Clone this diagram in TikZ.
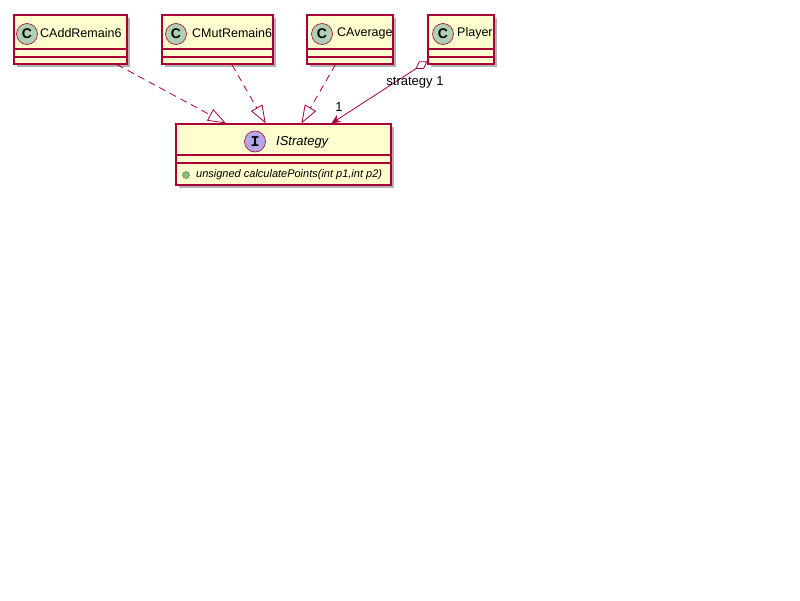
\documentclass[tikz,border=0pt]{standalone}
\usepackage{fontspec}
\setmainfont{Liberation Sans}
\setmonofont{Liberation Mono}
\usetikzlibrary{arrows.meta,shadows}
\definecolor{umlred}{HTML}{A80036}
\definecolor{umlfill}{HTML}{FEFECE}
\definecolor{umlclass}{HTML}{ADD1B2}
\definecolor{umliface}{HTML}{B4A7E5}
\definecolor{umldot}{HTML}{84BE84}
\tikzset{
 cls/.style={draw=umlred,fill=umlfill,line width=1.3pt,rectangle,inner sep=0pt,
  drop shadow={shadow xshift=3pt,shadow yshift=-3pt,opacity=0.3,fill=black}},
 spot/.style={circle,draw=umlred,line width=0.6pt,minimum size=21pt,inner sep=0pt},
 cname/.style={anchor=west,inner sep=0pt,font=\fontsize{12.5}{14}\selectfont},
 realize/.style={draw=umlred,line width=0.8pt,dash pattern=on 7pt off 5pt,
  -{Triangle[open,length=18pt,width=13pt,fill=white]}},
 aggr/.style={draw=umlred,line width=0.8pt,
  {Diamond[open,length=14pt,width=9pt,fill=white]}-{Stealth[length=9pt,width=8pt]}},
 lbl/.style={inner sep=0pt,font=\fontsize{13}{15}\selectfont}
}
\begin{document}
\begin{tikzpicture}[x=1pt,y=-1pt]
 \useasboundingbox[fill=white] (0,0) rectangle (800,600);
 \node[cls,minimum width=113pt,minimum height=49pt] (add) at (70.5,39.5) {};
 \node[cls,minimum width=111pt,minimum height=49pt] (mut) at (217.5,39.5) {};
 \node[cls,minimum width=86pt,minimum height=49pt] (avg) at (350,39.5) {};
 \node[cls,minimum width=66pt,minimum height=49pt] (player) at (461,39.5) {};
 \node[cls,minimum width=215pt,minimum height=61pt] (strat) at (283.5,154.5) {};
 \draw[umlred,line width=1.3pt](14,49)--(127,49) (14,57)--(127,57);
 \draw[umlred,line width=1.3pt](162,49)--(273,49) (162,57)--(273,57);
 \draw[umlred,line width=1.3pt](307,49)--(393,49) (307,57)--(393,57);
 \draw[umlred,line width=1.3pt](428,49)--(494,49) (428,57)--(494,57);
 \draw[umlred,line width=1.3pt](176,155)--(391,155) (176,163)--(391,163);
 \node[spot,fill=umlclass] (addspot) at (27,34) {\fontsize{14}{14}\selectfont\bfseries C};
 \node[spot,fill=umlclass] (mutspot) at (176,34) {\fontsize{14}{14}\selectfont\bfseries C};
 \node[spot,fill=umlclass] (avgspot) at (322,34) {\fontsize{14}{14}\selectfont\bfseries C};
 \node[spot,fill=umlclass] (playerspot) at (443,34) {\fontsize{14}{14}\selectfont\bfseries C};
 \node[spot,fill=umliface] (stratspot) at (255,141.5) {\fontsize{15}{15}\selectfont\ttfamily\bfseries I};
 \node[cname] (addname) at (40,33) {CAddRemain6};
 \node[cname] (mutname) at (192,33) {CMutRemain6};
 \node[cname] (avgname) at (337,33) {CAverage};
 \node[cname] (playername) at (457,33) {Player};
 \node[cname,font=\fontsize{13}{15}\selectfont\itshape] (stratname) at (276,142) {IStrategy};
 \node[circle,fill=umldot,draw=umldot!60!black,line width=0.4pt,minimum size=7pt,inner sep=0pt] (mdot) at (186,175) {};
 \node[anchor=west,inner sep=0pt,font=\fontsize{11}{13}\selectfont\itshape] (method) at (196,175) {unsigned calculatePoints(int p1,int p2)};
 \draw[realize] (add) -- (strat);
 \draw[realize] (mut) -- (strat);
 \draw[realize] (avg) -- (strat);
 \draw[aggr] (player) -- (strat);
 \node[lbl] (rolename) at (415,82) {strategy 1};
 \node[lbl] (mult) at (339,107) {1};
\end{tikzpicture}
\end{document}
